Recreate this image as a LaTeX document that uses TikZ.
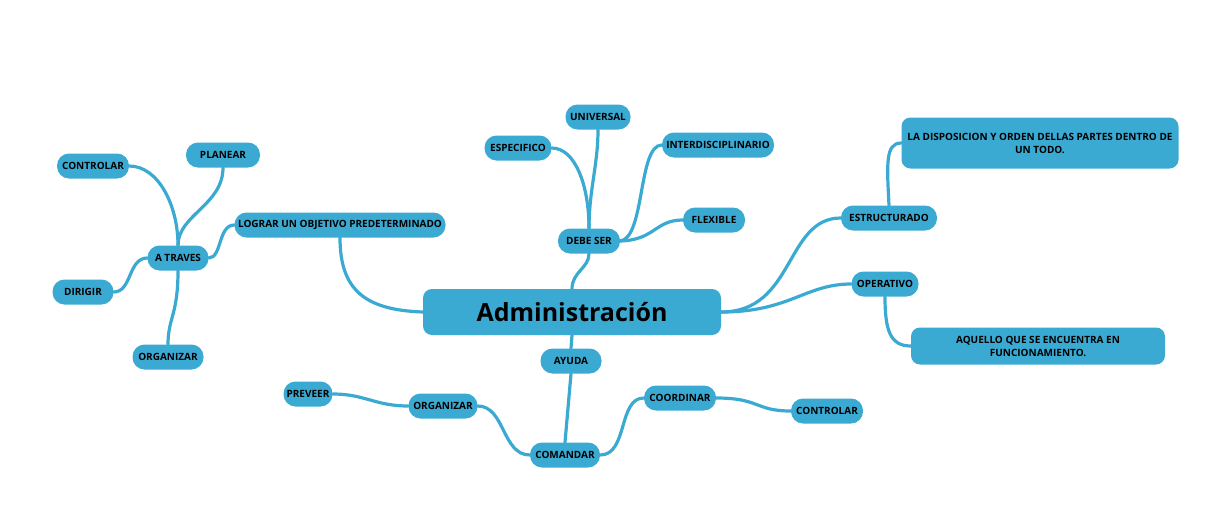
\documentclass[tikz,border=0pt]{standalone}
\usepackage{fontspec}
\setmainfont{Open Sans}
\usetikzlibrary{backgrounds}
\definecolor{mapblue}{RGB}{59,170,211}
\tikzset{
  pill/.style={fill=mapblue, draw=none, rounded corners=12pt, minimum height=25pt, inner sep=0pt, font=\fontsize{10}{12}\selectfont\bfseries, text=black},
  bigbox/.style={fill=mapblue, draw=none, rounded corners=9pt, inner sep=0pt, align=center, font=\fontsize{10}{13}\selectfont\bfseries, text=black},
  link/.style={draw=mapblue, line width=3.2pt, line cap=round}
}
\begin{document}
\begin{tikzpicture}[x=1pt,y=-1pt]
\useasboundingbox (0,0) rectangle (1216,509);
% central
\node[fill=mapblue, rounded corners=9pt, minimum width=298pt, minimum height=46pt, inner sep=0pt, font=\fontsize{25}{29}\selectfont\bfseries] (admin) at (572,312) {Administración};
% left cluster
\node[pill, minimum width=72pt] (controlarA) at (93,166) {CONTROLAR};
\node[pill, minimum width=74pt] (planear) at (223,155) {PLANEAR};
\node[pill, minimum width=211pt] (lograr) at (340,225) {LOGRAR UN OBJETIVO PREDETERMINADO};
\node[pill, minimum width=61pt] (atraves) at (178,258) {A TRAVES};
\node[pill, minimum width=61pt] (dirigir) at (83,292) {DIRIGIR};
\node[pill, minimum width=71pt] (organizarA) at (168,357) {ORGANIZAR};
% top cluster
\node[pill, minimum width=65pt] (universal) at (598,117) {UNIVERSAL};
\node[pill, minimum width=67pt] (especifico) at (518,148) {ESPECIFICO};
\node[pill, minimum width=112pt] (interdisc) at (718,145) {INTERDISCIPLINARIO};
\node[pill, minimum width=62pt] (flexible) at (714,220) {FLEXIBLE};
\node[pill, minimum width=62pt] (debeser) at (589,241) {DEBE SER};
% right cluster
\node[bigbox, minimum width=277pt, minimum height=51pt] (disposicion) at (1040,143) {LA DISPOSICION Y ORDEN DELLAS PARTES DENTRO DE\\UN TODO.};
\node[pill, minimum width=96pt] (estructurado) at (889,218) {ESTRUCTURADO};
\node[pill, minimum width=67pt] (operativo) at (885,284) {OPERATIVO};
\node[bigbox, minimum width=254pt, minimum height=37pt] (aquello) at (1038,346) {AQUELLO QUE SE ENCUENTRA EN\\FUNCIONAMIENTO.};
% bottom cluster
\node[pill, minimum width=61pt] (ayuda) at (571,361) {AYUDA};
\node[pill, minimum width=49pt] (preveer) at (308,394) {PREVEER};
\node[pill, minimum width=69pt] (organizarB) at (443,406) {ORGANIZAR};
\node[pill, minimum width=70pt] (comandar) at (565,455) {COMANDAR};
\node[pill, minimum width=72pt] (coordinar) at (680,398) {COORDINAR};
\node[pill, minimum width=72pt] (controlarB) at (827,411) {CONTROLAR};
% connectors
\begin{scope}[on background layer]
\draw[link] (atraves.north) .. controls (178,205) and (158,166) .. (controlarA.east);
\draw[link] (atraves.north) .. controls (178,215) and (223,205) .. (planear.south);
\draw[link] (atraves.east) .. controls (222,258) and (218,225) .. (lograr.west);
\draw[link] (atraves.west) .. controls (128,258) and (132,292) .. (dirigir.east);
\draw[link] (atraves.south) .. controls (178,315) and (168,318) .. (organizarA.north);
\draw[link] (admin.west) .. controls (365,310) and (340,290) .. (lograr.south);
\draw[link] (admin.north) .. controls (572,272) and (589,268) .. (debeser.south);
\draw[link] (debeser.north) .. controls (589,185) and (575,148) .. (especifico.east);
\draw[link] (debeser.north) .. controls (589,190) and (598,165) .. (universal.south);
\draw[link] (debeser.east) .. controls (645,238) and (638,145) .. (interdisc.west);
\draw[link] (debeser.east) .. controls (655,240) and (655,220) .. (flexible.west);
\draw[link] (admin.east) .. controls (795,312) and (785,218) .. (estructurado.west);
\draw[link] (admin.east) .. controls (790,312) and (805,284) .. (operativo.west);
\draw[link] (estructurado.north) .. controls (887,165) and (885,143) .. (disposicion.west);
\draw[link] (operativo.south) .. controls (885,330) and (890,346) .. (aquello.west);
\draw[link] (admin.south) -- (ayuda.north);
\draw[link] (ayuda.south) -- (comandar.north);
\draw[link] (comandar.west) .. controls (502,455) and (505,406) .. (organizarB.east);
\draw[link] (organizarB.west) .. controls (375,406) and (365,394) .. (preveer.east);
\draw[link] (comandar.east) .. controls (628,455) and (618,398) .. (coordinar.west);
\draw[link] (coordinar.east) .. controls (760,398) and (755,411) .. (controlarB.west);
\end{scope}
\end{tikzpicture}
\end{document}
